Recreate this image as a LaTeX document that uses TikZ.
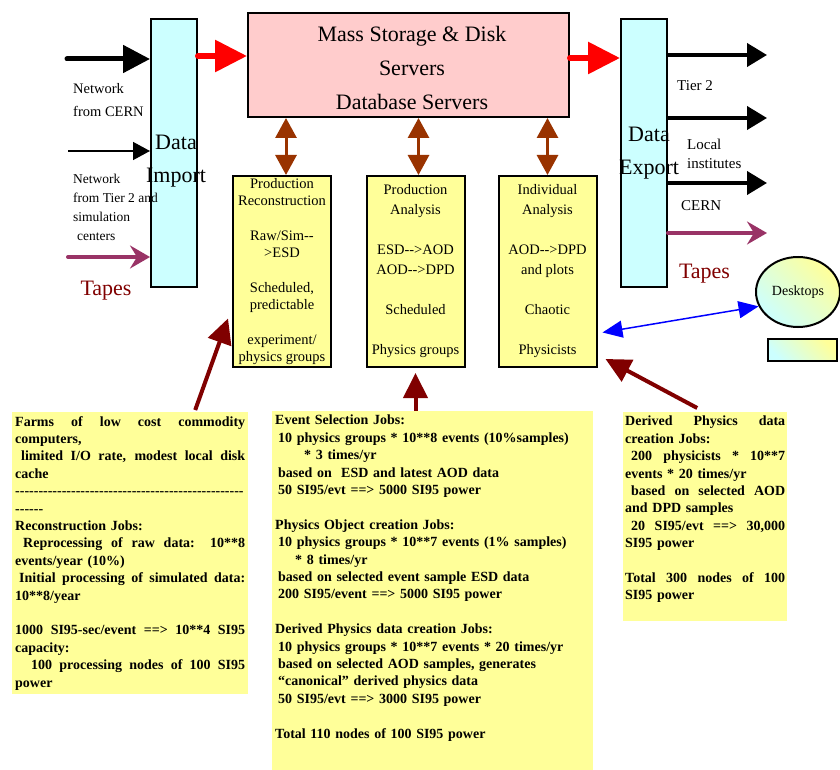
\documentclass[tikz,border=0pt]{standalone}
\usepackage{fontspec}
\setmainfont{Liberation Serif}[Ligatures=TeXOff]
\usetikzlibrary{arrows.meta,shapes.geometric}
\definecolor{gatecyan}{HTML}{CCFFFF}
\definecolor{storepink}{HTML}{FFCCCC}
\definecolor{jobyellow}{HTML}{FFFF99}
\definecolor{linkbrown}{HTML}{993300}
\definecolor{feedred}{HTML}{800000}
\definecolor{tapepurple}{HTML}{993366}
\newcommand{\jline}[1]{\leavevmode\hbox to\hsize{\spaceskip=0pt\xspaceskip=0pt #1}}

\begin{document}
\begin{tikzpicture}[x=1pt,y=-1pt]

    \tikzset{
      gatebar/.style={
        draw,
        line width=2pt,
        fill=gatecyan,
        minimum width=46pt,
        minimum height=268pt,
        inner sep=0pt,
      },
      gatetext/.style={
        align=center,
        font=\fontsize{22}{33}\selectfont,
      },
      storebox/.style={
        draw,
        line width=2pt,
        fill=storepink,
        minimum width=321pt,
        minimum height=104pt,
        align=center,
        font=\fontsize{22}{34}\selectfont,
      },
      taskbox/.style={
        draw,
        line width=2pt,
        fill=jobyellow,
        minimum width=98pt,
        minimum height=191pt,
        inner sep=0pt,
        align=center,
        font=\fontsize{14.5}{20}\selectfont,
      },
      jobnote/.style={
        fill=jobyellow,
        anchor=north west,
        inner xsep=3pt,
        inner ysep=4pt,
        align=left,
        font=\bfseries\fontsize{14}{17.4}\selectfont,
      },
      sidenote/.style={
        anchor=west,
        inner sep=0pt,
        align=left,
      },
      tapenote/.style={
        text=feedred,
        font=\fontsize{22}{22}\selectfont,
      },
      deskshade/.style={
        draw,
        line width=2pt,
        top color=gatecyan,
        bottom color=jobyellow,
        shading angle=135,
        inner sep=0pt,
      },
      inarrow/.style={line width=5pt, line cap=round, -{Triangle[length=27pt,width=27pt]}},
      thinarrow/.style={line width=1.5pt, -{Triangle[length=17pt,width=18pt]}},
      outarrow/.style={line width=4pt, -{Triangle[length=20pt,width=23pt]}},
      redarrow/.style={red, line width=6pt, line cap=round, -{Triangle[length=32pt,width=31pt]}},
      tapearrow/.style={tapepurple, line width=4pt, line cap=round, -{Stealth[length=20pt,width=23pt,inset=7pt]}},
      duplex/.style={linkbrown, line width=3pt, {Triangle[length=20pt,width=21pt]}-{Triangle[length=20pt,width=21pt]}},
      feedarrow/.style={feedred, line width=4pt, -{Triangle[length=25pt,width=24pt]}},
      deskarrow/.style={blue, line width=1.5pt, {Triangle[length=20pt,width=17pt]}-{Triangle[length=20pt,width=17pt]}},
    }
    \useasboundingbox (0,0) rectangle (840,770);

	\node[gatebar, label={[gatetext,xshift=2pt,yshift=-8.5pt]center:Data\\Import}] (import) at (174,153) {};
	\node[gatebar, label={[gatetext,xshift=5pt]center:Data\\Export}] (export) at (644,153) {};
	\node[storebox, label={[gatetext,font=\fontsize{22}{34}\selectfont,xshift=3.5pt,yshift=-3pt]center:Mass Storage \& Disk\\Servers\\Database Servers}] (store) at (408.5,65) {};

	\node[taskbox, font=\fontsize{14.5}{17.3}\selectfont] (prodrec) at (282,271.5)
	  {Production\\Reconstruction\\[17.3pt]Raw/Sim--\\>ESD\\[17.3pt]Scheduled,\\predictable\\[17.3pt]experiment/\\physics groups};
	\node[taskbox] (prodana) at (415.5,271.5)
	  {Production\\Analysis\\[20pt]ESD-->AOD\\AOD-->DPD\\[20pt]Scheduled\\[20pt]Physics groups};
	\node[taskbox] (indana) at (547.5,271.5)
	  {Individual\\Analysis\\[20pt]AOD-->DPD\\and plots\\[20pt]Chaotic\\[20pt]Physicists};

	\node[jobnote, text width=230pt] (farmjobs) at (12,412) {%
	  \jline{Farms of low cost commodity}\\
	  computers,\\
	  \jline{\hspace*{6pt}limited I/O rate, modest local disk}\\
	  cache\\
	  \mbox{-------------------------------------------------}\\
	  ------\\
	  Reconstruction Jobs:\\
	  \jline{\hspace*{8pt}Reprocessing of raw data: 10**8}\\
	  events/year (10\%)\\
	  \jline{\hspace*{4pt}Initial processing of simulated data:}\\
	  10**8/year\\[17.4pt]
	  \jline{1000 SI95-sec/event ==> 10**4 SI95}\\
	  capacity:\\
	  \jline{\hspace*{16pt}100 processing nodes of 100 SI95}\\
	  power};
	\node[jobnote, text width=315pt] (seljobs) at (272,411) {%
	  Event Selection Jobs:\\
	  \hspace*{3pt}10 physics groups * 10**8 events (10\%samples)\\
	  \hspace*{29pt}* 3 times/yr\\
	  \hspace*{3pt}based on\ \ ESD and latest AOD data\\
	  \hspace*{3pt}50 SI95/evt ==> 5000 SI95 power\\[17.4pt]
	  Physics Object creation Jobs:\\
	  \hspace*{3pt}10 physics groups * 10**7 events (1\% samples)\\
	  \hspace*{20pt}* 8 times/yr\\
	  \hspace*{3pt}based on selected event sample ESD data\\
	  \hspace*{3pt}200 SI95/event ==> 5000 SI95 power\\[17.4pt]
	  Derived Physics data creation Jobs:\\
	  \hspace*{3pt}10 physics groups * 10**7 events * 20 times/yr\\
	  \hspace*{3pt}based on selected AOD samples, generates\\
	  \hspace*{3pt}“canonical” derived physics data\\
	  \hspace*{3pt}50 SI95/evt ==> 3000 SI95 power\\[17.4pt]
	  Total 110 nodes of 100 SI95 power\\[11pt]
	  \mbox{}};
	\node[jobnote, text width=160pt, inner xsep=2pt] (derjobs) at (623,412) {%
	  \jline{Derived Physics data}\\
	  creation Jobs:\\
	  \jline{\hspace*{6pt}200 physicists * 10**7}\\
	  events * 20 times/yr\\
	  \jline{\hspace*{6pt}based on selected AOD}\\
	  and DPD samples\\
	  \jline{\hspace*{6pt}20 SI95/evt ==> 30,000}\\
	  SI95 power\\[17.4pt]
	  \jline{Total 300 nodes of 100}\\
	  SI95 power\\[0pt]
	  \mbox{}};

	\node[deskshade, ellipse, minimum width=84pt, minimum height=70pt, font=\fontsize{14}{16}\selectfont] (desktops) at (798,292) {Desktops};
	\node[deskshade, minimum width=69pt, minimum height=22pt] (screen) at (802.5,350) {};

	\node[sidenote, font=\fontsize{14.5}{23}\selectfont] (netcern) at (73,100) {Network\\from CERN};
	\node[sidenote, font=\fontsize{13.5}{19}\selectfont] (nettier) at (73,207) {Network\\from Tier 2 and\\simulation\\\hspace*{4pt}centers};
	\node[tapenote] (tapesleft) at (106,291) {Tapes};
	\node[sidenote, font=\fontsize{15}{19}\selectfont] (tiertwo) at (677,86) {Tier 2};
	\node[sidenote, font=\fontsize{15}{19}\selectfont] (localinst) at (687,153.5) {Local\\institutes};
	\node[sidenote, font=\fontsize{15}{19}\selectfont] (cernlbl) at (681,206) {CERN};
	\node[tapenote] (tapesright) at (704.5,274) {Tapes};

	\coordinate (cernin) at (67,59);
	\coordinate (tierin) at (68,151);
	\coordinate (tapein) at (68,257);
	\coordinate (tiertwoout) at (767,55);
	\coordinate (localout) at (767,118);
	\coordinate (cernout) at (767,183);
	\coordinate (tapeout) at (767,233);

	\draw[inarrow] (cernin) -- (import.west |- cernin);
	\draw[thinarrow] (tierin) -- (import.west |- tierin);
	\draw[tapearrow] (tapein) -- (import.west |- tapein);
	\draw[redarrow] ([yshift=9pt]store.west -| import.east) -- ([yshift=9pt]store.west);
	\draw[redarrow] ([yshift=7pt]store.east) -- ([yshift=7pt]store.east -| export.west);
	\draw[outarrow] (export.east |- tiertwoout) -- (tiertwoout);
	\draw[outarrow] (export.east |- localout) -- (localout);
	\draw[outarrow] (export.east |- cernout) -- (cernout);
	\draw[tapearrow] (export.east |- tapeout) -- (tapeout);

	\draw[duplex] ([xshift=4pt]prodrec.north |- store.south) -- ([xshift=4pt]prodrec.north);
	\draw[duplex] ([xshift=3pt]prodana.north |- store.south) -- ([xshift=3pt]prodana.north);
	\draw[duplex] (indana.north |- store.south) -- (indana.north);

	\draw[feedarrow] ([shift={(65,-2)}]farmjobs.north) -- ([shift={(-4,47)}]prodrec.west);
	\draw[feedarrow] (seljobs.north -| prodana.south) -- ([yshift=-5pt]prodana.south);
	\draw[feedarrow] ([shift={(-8,-4)}]derjobs.north) -- ([shift={(8,-9)}]indana.south east);
	\draw[deskarrow] ([shift={(5,61)}]indana.east) -- (desktops.200);

\end{tikzpicture}
\end{document}
